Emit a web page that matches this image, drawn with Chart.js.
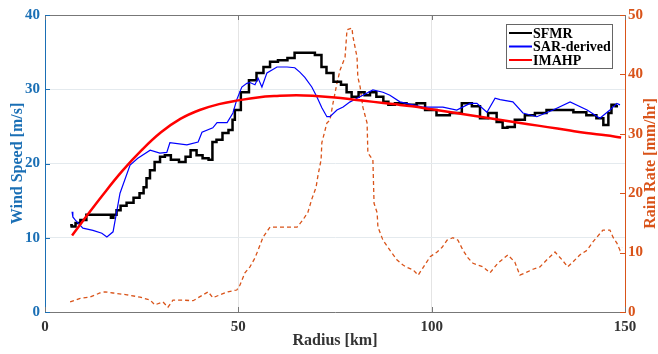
<!DOCTYPE html>
<html>
<head>
<meta charset="utf-8">
<script src="https://cdn.jsdelivr.net/npm/chart.js@4/dist/chart.umd.min.js"></script>
<style>
  html, body { margin: 0; padding: 0; background: #fff; }
  #wrap { width: 658px; height: 354px; }
</style>
</head>
<body>
<div id="wrap"><canvas id="radius-chart" width="658" height="354"></canvas></div>
<script>
// SFMR wind speed vs radius
const sfmrRadius = [6.5, 7.3, 8.5, 9.8, 11.6, 14.2, 16.8, 17.3, 18.1, 18.9, 20.2, 22, 23.8, 25.1, 25.9, 26.6, 27.7, 29, 30.5, 31.5,
  33.6, 35.7, 37, 38.3, 40.1, 41.4, 43.2, 43.4, 45.3, 46.5, 48.4, 48.6, 49.6, 51.7, 53.8, 55.6, 57.4, 59, 61.5, 63.9,
  65.2, 68.5, 71.1, 71.9, 73.7, 75.5, 77.6, 78.4, 80.2, 82, 83.3, 84.8, 86.6, 88.4, 89.2, 91.8, 95.2, 97, 99.6, 102.9,
  106.5, 109.1, 111.7, 113.3, 115.9, 117.7, 119, 120.2, 122.8, 125.4, 128, 131.4, 135, 138.3, 141.7, 143.5, 145.3, 146.1, 146.9, 148.2];
const sfmrWind = [11.7, 11.5, 12, 12.4, 13.1, 13.1, 13.1, 12.7, 13.1, 13.7, 14.3, 14.7, 15.4, 16, 16.8, 18, 19.1, 20.2, 20.9, 21.1,
  20.5, 20.2, 20.9, 21.8, 21.1, 20.7, 20.5, 22.9, 23.2, 24.1, 24.5, 25.9, 27.2, 29.6, 31.2, 32.2, 33, 33.7, 33.9, 34.2,
  34.9, 34.9, 34.6, 33, 32.2, 31, 30.6, 29.6, 29, 29.6, 29.2, 29.6, 29, 28.3, 27.9, 28.1, 27.9, 28.1, 27.2, 26.5,
  26.8, 28.1, 27.7, 26.1, 26.8, 25.6, 24.8, 24.9, 25.9, 26.5, 26.8, 27.2, 27.2, 26.9, 26.5, 26.1, 25.2, 26.8, 27.9, 27.7];

// SAR-derived wind speed
const sarRadius = [7, 7.2, 7.8, 9.8, 12.4, 14.7, 16, 17.6, 19.4, 22, 24, 27.2, 29.7, 31.5, 32.3, 36.7, 39.6, 40.6, 43.4, 44.5,
  47.1, 48.6, 49.6, 50.9, 52.2, 53, 54.3, 55.1, 56.1, 57.4, 58.7, 60, 62.6, 64.6, 65.9, 67.2, 69, 70.3, 71.6, 72.9,
  73.7, 75.5, 77.1, 78.9, 80.7, 82.2, 84.8, 87.4, 89.2, 91.8, 97.7, 102.9, 106.5, 109.9, 111.7, 114.3, 116.4, 117.7, 121, 123.6,
  127.2, 131.4, 135.8, 140.2, 143.5, 146.1, 147.9, 148.7];
const sarWind = [13.5, 12.8, 12.4, 11.3, 11, 10.6, 10.1, 10.8, 16, 19.8, 20.7, 21.8, 21.4, 21.5, 22.8, 22.5, 22.9, 24.2, 24.8, 25.5,
  25.5, 26.8, 28.6, 30.3, 30.8, 30.9, 30.6, 31.5, 30.3, 32.2, 32.6, 33, 33, 32.9, 32.3, 31.6, 30.3, 29, 27.5, 26.3,
  26.3, 27.2, 27.6, 28.3, 28.8, 29.2, 29.9, 29.6, 29.2, 28.3, 27.6, 27.6, 27.2, 28.1, 28.1, 26.9, 28.8, 28.6, 28.3, 26.8,
  26.3, 27.2, 28.3, 27.2, 26.1, 27.2, 28.1, 27.9];

// IMAHP model profile
const imahpRadius = [7, 10, 15, 20, 25, 30, 35, 40, 45, 50, 55, 60, 65, 70, 75, 80, 85, 90, 95, 100,
  105, 110, 115, 120, 125, 130, 135, 140, 145, 149];
const imahpWind = [10.3, 12.4, 15.8, 19, 21.8, 24.2, 26, 27.2, 28, 28.5, 28.9, 29.1, 29.2, 29.1, 28.9, 28.6, 28.3, 28, 27.7, 27.3,
  26.9, 26.5, 26.1, 25.7, 25.3, 24.9, 24.5, 24.1, 23.8, 23.5];

// rain rate (right axis)
const rainRadius = [6.5, 9.1, 11.6, 14.2, 15.5, 17.6, 21.2, 24.6, 27.2, 28.4, 30.5, 31.8, 33.1, 35.7, 38.3, 40.9, 42.2, 43.4, 45.3, 47.3,
  49.6, 50.4, 51.7, 53, 54.3, 55.1, 56.4, 58.2, 65.2, 66.7, 68, 69, 70.1, 70.6, 71.4, 71.6, 72.9, 73.7, 74.5, 75.5,
  76.3, 77.6, 78.1, 79.4, 79.6, 80.7, 80.9, 81.5, 82.2, 83.3, 83.5, 84.8, 85.1, 85.9, 86.1, 87.4, 89.2, 91, 92.6, 93.6,
  95.2, 96.5, 97.7, 99.6, 101.4, 102.7, 104, 105.5, 106.8, 108.1, 109.4, 110.7, 113.3, 115.1, 117.1, 119.7, 121.5, 122.8, 124.6, 126.2,
  128, 129.8, 131.9, 133.7, 135.2, 136.5, 138.3, 140.2, 141.7, 144.3, 146.1, 146.9, 147.9, 148.7, 149.2];
const rainRate = [1.7, 2.3, 2.5, 3.2, 3.4, 3.2, 2.9, 2.5, 2.0, 1.2, 1.7, 0.8, 2.0, 2.0, 1.9, 2.9, 3.4, 2.4, 2.9, 3.4,
  3.7, 4.5, 6.6, 7.6, 9.1, 10.4, 12.6, 14.3, 14.3, 15.5, 16.8, 19, 21, 23, 25.6, 28.5, 31.8, 32.3, 35.2, 38.5,
  40.7, 42.9, 47.5, 47.8, 46.5, 42.9, 39.6, 37.9, 34.5, 31.8, 26.8, 25.6, 18.3, 16.7, 14.3, 12.1, 10.4, 8.8, 7.9, 7.5,
  7.1, 6.2, 7.4, 9.3, 10.1, 10.9, 12.1, 12.5, 12.1, 10.4, 9.1, 8.2, 7.6, 6.6, 8.2, 9.6, 8.4, 6.2, 6.7, 7.2,
  7.6, 8.8, 10.1, 8.8, 7.6, 8.4, 9.6, 10.4, 11.8, 13.8, 13.8, 12.6, 11.6, 10.4, 10.9];

const xTicks = [0, 50, 100, 150];

const blueAxis = "#1a6fb5";
const orangeAxis = "#d95319";
const serif = "'Liberation Serif', 'Times New Roman', serif";

function pairs(xs, ys) {
  return xs.map((x, i) => ({ x: x, y: ys[i] }));
}

// frame, inward ticks, right title and boxed legend like the matlab figure
const extras = {
  id: "extras",
  afterDraw(chart) {
    const ctx = chart.ctx;
    const a = chart.chartArea;
    const sx = chart.scales.x, sy = chart.scales.y, sy1 = chart.scales.y1;
    ctx.save();
    ctx.lineWidth = 1;
    ctx.strokeStyle = "#777";
    ctx.beginPath();
    ctx.moveTo(a.left, a.top + 0.5);
    ctx.lineTo(a.right, a.top + 0.5);
    ctx.stroke();

    ctx.beginPath();
    xTicks.forEach((v) => {
      const px = Math.round(sx.getPixelForValue(v)) + 0.5;
      ctx.moveTo(px, a.bottom);
      ctx.lineTo(px, a.bottom - 5);
      ctx.moveTo(px, a.top);
      ctx.lineTo(px, a.top + 5);
    });
    ctx.stroke();

    ctx.strokeStyle = blueAxis;
    ctx.beginPath();
    sy.ticks.forEach((t) => {
      const py = Math.round(sy.getPixelForValue(t.value)) + 0.5;
      ctx.moveTo(a.left, py);
      ctx.lineTo(a.left + 5, py);
    });
    ctx.stroke();

    ctx.strokeStyle = orangeAxis;
    ctx.beginPath();
    sy1.ticks.forEach((t) => {
      const py = Math.round(sy1.getPixelForValue(t.value)) + 0.5;
      ctx.moveTo(a.right, py);
      ctx.lineTo(a.right - 5, py);
    });
    ctx.stroke();

    // right axis title reads bottom-to-top
    ctx.fillStyle = orangeAxis;
    ctx.font = "bold 16px " + serif;
    ctx.textAlign = "center";
    ctx.textBaseline = "middle";
    ctx.translate(651, (a.top + a.bottom) / 2);
    ctx.rotate(-Math.PI / 2);
    ctx.fillText("Rain Rate [mm/hr]", 0, 0);
    ctx.restore();

    // legend box
    ctx.save();
    const lx = 506, ly = 24, lw = 106, lh = 44;
    ctx.fillStyle = "#fff";
    ctx.fillRect(lx, ly, lw, lh);
    ctx.strokeStyle = "#666";
    ctx.lineWidth = 1;
    ctx.strokeRect(lx + 0.5, ly + 0.5, lw, lh);
    ctx.font = "bold 14px " + serif;
    ctx.textBaseline = "middle";
    ctx.textAlign = "left";
    const items = chart.data.datasets.filter((d) => d.inLegend);
    items.forEach((d, i) => {
      const y = ly + 9 + i * 13.5;
      ctx.strokeStyle = d.borderColor;
      ctx.lineWidth = 2;
      ctx.beginPath();
      ctx.moveTo(lx + 3, y);
      ctx.lineTo(lx + 26, y);
      ctx.stroke();
      ctx.fillStyle = "#000";
      ctx.fillText(d.label, lx + 27, y + 1);
    });
    ctx.restore();
  },
};

const ctx = document.getElementById("radius-chart").getContext("2d");
const myChart = new Chart(ctx, {
  type: "line",
  data: {
    datasets: [
      {
        label: "SFMR",
        inLegend: true,
        data: pairs(sfmrRadius, sfmrWind),
        borderColor: "#000000",
        borderWidth: 2.5,
        stepped: "middle",
        pointRadius: 0,
        yAxisID: "y",
        order: 2,
      },
      {
        label: "SAR-derived",
        inLegend: true,
        data: pairs(sarRadius, sarWind),
        borderColor: "#0000ff",
        borderWidth: 1.2,
        pointRadius: 0,
        yAxisID: "y",
        order: 1,
      },
      {
        label: "IMAHP",
        inLegend: true,
        data: pairs(imahpRadius, imahpWind),
        borderColor: "#ff0000",
        borderWidth: 2.5,
        tension: 0.4,
        pointRadius: 0,
        yAxisID: "y",
        order: 0,
      },
      {
        label: "Rain Rate",
        inLegend: false,
        data: pairs(rainRadius, rainRate),
        borderColor: orangeAxis,
        borderWidth: 1.3,
        borderDash: [4, 3],
        pointRadius: 0,
        yAxisID: "y1",
        order: 3,
      },
    ],
  },
  options: {
    responsive: false,
    animation: false,
    layout: { padding: { top: 15, left: 0, right: 0, bottom: 0 } },
    plugins: {
      legend: { display: false },
      tooltip: { enabled: false },
    },
    scales: {
      x: {
        type: "linear",
        min: 0,
        max: 150,
        afterBuildTicks: (s) => { s.ticks = xTicks.map((v) => ({ value: v })); },
        afterFit: (s) => { s.height = 42; },
        border: { color: "#777" },
        grid: { color: "#e4e4e4", drawTicks: false },
        ticks: {
          color: "#333",
          padding: 6,
          font: { family: serif, size: 15, weight: "bold" },
        },
        title: {
          display: true,
          text: "Radius [km]",
          color: "#333",
          padding: { top: 0 },
          font: { family: serif, size: 16, weight: "bold" },
        },
      },
      y: {
        position: "left",
        min: 0,
        max: 40,
        afterFit: (s) => { s.width = 45; },
        border: { color: blueAxis },
        grid: { color: "#e4eaee", drawTicks: false },
        ticks: {
          stepSize: 10,
          color: blueAxis,
          padding: 5,
          font: { family: serif, size: 15, weight: "bold" },
        },
        title: {
          display: true,
          text: "Wind Speed [m/s]",
          color: blueAxis,
          padding: { top: 8, bottom: 0 },
          font: { family: serif, size: 16, weight: "bold" },
        },
      },
      y1: {
        position: "right",
        min: 0,
        max: 50,
        afterFit: (s) => { s.width = 33; },
        border: { color: orangeAxis },
        grid: { drawOnChartArea: false, drawTicks: false },
        ticks: {
          stepSize: 10,
          color: orangeAxis,
          padding: 3,
          font: { family: serif, size: 15, weight: "bold" },
        },
      },
    },
  },
  plugins: [extras],
});
</script>
</body>
</html>
